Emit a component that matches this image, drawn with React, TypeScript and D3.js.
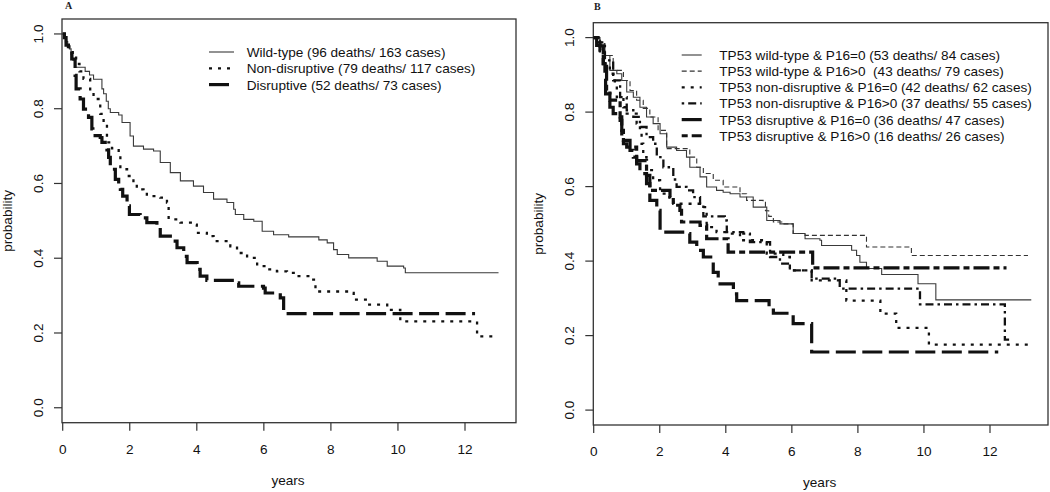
import React from "react";
import * as d3 from "d3";

// ---------- Data (years, survival probability) ----------
const xTicks = [0, 2, 4, 6, 8, 10, 12];
const yTicks = [0, 0.2, 0.4, 0.6, 0.8, 1.0];

const legendA = [
  "Wild-type (96 deaths/ 163 cases)",
  "Non-disruptive (79 deaths/ 117 cases)",
  "Disruptive (52 deaths/ 73 cases)",
];

const legendB = [
  "TP53 wild-type & P16=0 (53 deaths/ 84 cases)",
  "TP53 wild-type & P16>0  (43 deaths/ 79 cases)",
  "TP53 non-disruptive & P16=0 (42 deaths/ 62 cases)",
  "TP53 non-disruptive & P16>0 (37 deaths/ 55 cases)",
  "TP53 disruptive & P16=0 (36 deaths/ 47 cases)",
  "TP53 disruptive & P16>0 (16 deaths/ 26 cases)",
];

const wildTypeA: [number, number][] = [
  [0, 1], [0.05, 0.99], [0.1, 0.98], [0.15, 0.97], [0.2, 0.96], [0.25, 0.945], [0.3, 0.93],
  [0.37, 0.911], [0.67, 0.9], [0.8, 0.89], [0.92, 0.879], [1.17, 0.853], [1.22, 0.84],
  [1.3, 0.82], [1.36, 0.8], [1.42, 0.79], [1.67, 0.783], [1.77, 0.763], [2.01, 0.727],
  [2.11, 0.7], [2.41, 0.692], [2.71, 0.687], [2.91, 0.656], [3.21, 0.629], [3.51, 0.607],
  [3.9, 0.593], [4.2, 0.576], [4.5, 0.558], [4.9, 0.549], [5.1, 0.531], [5.15, 0.517],
  [5.4, 0.504], [5.7, 0.499], [5.95, 0.472], [6.29, 0.463], [6.74, 0.457], [7.64, 0.449],
  [7.89, 0.441], [8.08, 0.423], [8.19, 0.41], [8.53, 0.401], [9.38, 0.392], [9.68, 0.379],
  [10.17, 0.374], [10.22, 0.361], [13.0, 0.361],
];

const nonDisruptiveA: [number, number][] = [
  [0, 1], [0.1, 0.98], [0.2, 0.96], [0.3, 0.94], [0.4, 0.92], [0.5, 0.9], [0.62, 0.88],
  [0.82, 0.848], [0.92, 0.826], [1.12, 0.786], [1.22, 0.759], [1.32, 0.71], [1.47, 0.694],
  [1.67, 0.674], [1.72, 0.638], [1.92, 0.62], [2.11, 0.602], [2.21, 0.584], [2.41, 0.576],
  [2.51, 0.566], [2.91, 0.562], [3.11, 0.549], [3.16, 0.504], [3.51, 0.495], [3.9, 0.49],
  [4.0, 0.468], [4.3, 0.459], [4.5, 0.446], [5.0, 0.432], [5.2, 0.414], [5.5, 0.401],
  [5.8, 0.379], [6.1, 0.37], [6.39, 0.365], [6.69, 0.361], [6.99, 0.352], [7.39, 0.343],
  [7.54, 0.311], [8.58, 0.307], [8.68, 0.289], [9.08, 0.276], [9.68, 0.262], [10.07, 0.231],
  [12.36, 0.191], [12.9, 0.191],
];

const disruptiveA: [number, number][] = [
  [0, 1], [0.05, 0.99], [0.1, 0.97], [0.17, 0.96], [0.27, 0.933], [0.37, 0.889], [0.4, 0.853],
  [0.52, 0.826], [0.62, 0.799], [0.77, 0.777], [0.87, 0.746], [0.9, 0.728], [1.12, 0.723],
  [1.17, 0.71], [1.32, 0.69], [1.37, 0.67], [1.42, 0.647], [1.47, 0.638], [1.57, 0.611],
  [1.67, 0.589], [1.72, 0.584], [1.79, 0.566], [1.92, 0.54], [1.99, 0.517], [2.31, 0.508],
  [2.51, 0.495], [2.81, 0.482], [2.91, 0.459], [3.21, 0.446], [3.41, 0.428], [3.61, 0.405],
  [3.71, 0.388], [4.01, 0.37], [4.1, 0.352], [4.3, 0.341], [5.2, 0.334], [5.25, 0.325],
  [5.99, 0.32], [6.04, 0.307], [6.49, 0.294], [6.59, 0.252], [12.3, 0.252],
];

const wtP16zeroB: [number, number][] = [
  [0, 1], [0.19, 0.979], [0.34, 0.952], [0.49, 0.912], [0.7, 0.903], [0.85, 0.885], [1.0, 0.854],
  [1.2, 0.84], [1.4, 0.813], [1.6, 0.787], [1.8, 0.769], [2.01, 0.742], [2.21, 0.706],
  [2.51, 0.697], [2.81, 0.679], [2.91, 0.652], [3.22, 0.626], [3.42, 0.599], [3.72, 0.59],
  [3.92, 0.585], [4.13, 0.581], [4.43, 0.572], [4.83, 0.545], [5.24, 0.509], [5.64, 0.5],
  [6.04, 0.474], [6.4, 0.46], [6.85, 0.456], [6.9, 0.442], [7.81, 0.429], [7.96, 0.415],
  [8.06, 0.397], [8.26, 0.38], [8.72, 0.364], [9.82, 0.339], [10.36, 0.296], [13.25, 0.296],
];

const wtP16posB: [number, number][] = [
  [0, 1], [0.19, 0.984], [0.34, 0.952], [0.59, 0.912], [0.9, 0.885], [1.1, 0.858], [1.3, 0.832],
  [1.5, 0.81], [1.7, 0.787], [1.95, 0.751], [2.21, 0.702], [2.91, 0.679], [3.12, 0.652],
  [3.32, 0.635], [3.62, 0.617], [3.92, 0.599], [4.43, 0.581], [4.63, 0.563], [5.13, 0.558],
  [5.2, 0.535], [5.3, 0.52], [5.44, 0.505], [5.74, 0.5], [6.04, 0.474], [6.4, 0.469],
  [8.26, 0.438], [9.62, 0.415], [13.15, 0.415],
];

const nonDisP16zeroB: [number, number][] = [
  [0, 1], [0.1, 0.99], [0.19, 0.963], [0.29, 0.93], [0.49, 0.903], [0.64, 0.876], [0.7, 0.84],
  [0.9, 0.813], [1.0, 0.796], [1.3, 0.769], [1.4, 0.742], [1.45, 0.715], [1.5, 0.679],
  [1.6, 0.644], [1.8, 0.617], [2.01, 0.581], [2.21, 0.572], [2.41, 0.554], [3.22, 0.545],
  [3.42, 0.491], [3.72, 0.478], [4.13, 0.474], [4.43, 0.456], [5.24, 0.42], [5.74, 0.411],
  [5.94, 0.375], [6.6, 0.348], [7.65, 0.294], [8.68, 0.259], [9.16, 0.221], [10.15, 0.176],
  [13.15, 0.176],
];

const nonDisP16posB: [number, number][] = [
  [0, 1], [0.1, 0.987], [0.34, 0.939], [0.59, 0.885], [0.8, 0.84], [1.0, 0.805], [1.2, 0.787],
  [1.4, 0.76], [1.6, 0.733], [1.8, 0.715], [1.91, 0.679], [2.11, 0.652], [2.41, 0.619],
  [2.51, 0.599], [2.81, 0.59], [3.01, 0.572], [3.22, 0.554], [3.32, 0.52], [3.97, 0.509],
  [4.03, 0.478], [4.53, 0.474], [4.73, 0.451], [5.34, 0.411], [5.64, 0.393], [5.94, 0.375],
  [6.6, 0.353], [7.45, 0.326], [9.88, 0.284], [12.45, 0.189], [12.69, 0.189],
];

const disP16zeroB: [number, number][] = [
  [0, 1], [0.09, 0.979], [0.19, 0.966], [0.29, 0.93], [0.34, 0.894], [0.36, 0.849], [0.49, 0.813],
  [0.59, 0.796], [0.8, 0.778], [0.85, 0.751], [0.9, 0.724], [1.1, 0.697], [1.2, 0.679],
  [1.3, 0.661], [1.4, 0.635], [1.6, 0.608], [1.7, 0.563], [1.91, 0.536], [2.01, 0.478],
  [2.81, 0.474], [2.91, 0.451], [3.12, 0.429], [3.32, 0.411], [3.62, 0.37], [3.77, 0.339],
  [4.23, 0.312], [4.33, 0.294], [5.31, 0.277], [5.44, 0.26], [6.04, 0.232], [6.6, 0.156],
  [12.25, 0.156],
];

const disP16posB: [number, number][] = [
  [0, 1], [0.19, 0.978], [0.29, 0.93], [0.39, 0.858], [0.49, 0.832], [0.8, 0.787], [0.85, 0.733],
  [0.9, 0.715], [1.0, 0.706], [1.3, 0.67], [1.6, 0.63], [1.7, 0.59], [2.31, 0.572], [2.41, 0.55],
  [2.61, 0.536], [2.66, 0.505], [3.22, 0.496], [3.42, 0.46], [4.07, 0.424], [6.63, 0.382],
  [12.5, 0.382],
];

// ---------- Styles ----------
type Sty = { w: number; dash: string | null; color: string };
const stylesA: Sty[] = [
  { w: 1.1, dash: null, color: "#3a3a3a" },
  { w: 2.3, dash: "3,6", color: "#111" },
  { w: 3.2, dash: "20,6.5", color: "#111" },
];
const stylesB: Sty[] = [
  { w: 1.1, dash: null, color: "#3a3a3a" },
  { w: 1.1, dash: "5,3", color: "#333" },
  { w: 2.3, dash: "3,6", color: "#111" },
  { w: 2.3, dash: "2.5,4,8,4", color: "#111" },
  { w: 3.2, dash: "20,6.5", color: "#111" },
  { w: 3.2, dash: "6,4,16,4", color: "#111" },
];

const FONT = "'Liberation Sans', Arial, Helvetica, sans-serif";
const FS = 13.6;

type PanelProps = {
  letter: string;
  letterX: number;
  letterY: number;
  box: [number, number, number, number]; // left, top, right, bottom
  x0: number;
  x12: number;
  series: [number, number][][];
  styles: Sty[];
  legend: string[];
  legLineX: [number, number];
  legTextX: number;
  legY0: number;
  legDy: number;
};

function Panel(p: PanelProps) {
  const [L, T, R, B] = p.box;
  const x = d3.scaleLinear().domain([0, 12]).range([p.x0, p.x12]);
  const y = d3.scaleLinear().domain([-0.04, 1.04]).range([B, T]);
  const line = d3
    .line<[number, number]>()
    .x((d) => x(d[0]))
    .y((d) => y(d[1]))
    .curve(d3.curveStepAfter);
  const axisCol = "#333";
  const midX = (L + R) / 2;
  return (
    <g>
      <text x={p.letterX} y={p.letterY} fontFamily="'Liberation Serif', 'DejaVu Serif', serif" fontSize={10} fontWeight="bold" fill="#222">
        {p.letter}
      </text>
      <rect x={L} y={T} width={R - L} height={B - T} fill="none" stroke={axisCol} strokeWidth={1.3} />
      {/* y axis ticks */}
      {yTicks.map((v) => (
        <g key={"y" + v}>
          <line x1={L - 8} x2={L} y1={y(v)} y2={y(v)} stroke={axisCol} strokeWidth={1.2} />
          <text
            transform={`translate(${L - 19},${y(v)}) rotate(-90)`}
            textAnchor="middle"
            fontFamily={FONT}
            fontSize={FS}
            fill="#111"
          >
            {v.toFixed(1)}
          </text>
        </g>
      ))}
      {/* x axis ticks */}
      {xTicks.map((v) => (
        <g key={"x" + v}>
          <line x1={x(v)} x2={x(v)} y1={B} y2={B + 8} stroke={axisCol} strokeWidth={1.2} />
          <text x={x(v)} y={B + 31} textAnchor="middle" fontFamily={FONT} fontSize={FS} fill="#111">
            {v}
          </text>
        </g>
      ))}
      <text x={midX - 1} y={B + 62} textAnchor="middle" fontFamily={FONT} fontSize={FS} fill="#111">
        years
      </text>
      <text
        transform={`translate(${L - 50},${(T + B) / 2}) rotate(-90)`}
        textAnchor="middle"
        fontFamily={FONT}
        fontSize={FS}
        fill="#111"
      >
        probability
      </text>
      {/* curves */}
      {p.series.map((s, i) => (
        <path
          key={"c" + i}
          d={line(s) || ""}
          fill="none"
          stroke={p.styles[i].color}
          strokeWidth={p.styles[i].w}
          strokeDasharray={p.styles[i].dash || undefined}
        />
      ))}
      {/* legend */}
      {p.legend.map((t, i) => {
        const yy = p.legY0 + i * p.legDy;
        return (
          <g key={"l" + i}>
            <line
              x1={p.legLineX[0]}
              x2={p.legLineX[1]}
              y1={yy}
              y2={yy}
              stroke={p.styles[i].color}
              strokeWidth={p.styles[i].w}
              strokeDasharray={p.styles[i].dash || undefined}
            />
            <text x={p.legTextX} y={yy + 5} fontFamily={FONT} fontSize={FS} fill="#111" style={{ whiteSpace: "pre" }}>
              {t}
            </text>
          </g>
        );
      })}
    </g>
  );
}

export default function App() {
  return (
    <svg
      width={1050}
      height={492}
      style={{ position: "absolute", left: 0, top: 0, background: "#fff" }}
    >
      <rect x={0} y={0} width={1050} height={492} fill="#fff" />
      <Panel
        letter="A"
        letterX={65}
        letterY={8.5}
        box={[62, 19, 516, 422.7]}
        x0={62.7}
        x12={465}
        series={[wildTypeA, nonDisruptiveA, disruptiveA]}
        styles={stylesA}
        legend={legendA}
        legLineX={[209, 234]}
        legTextX={246.7}
        legY0={52}
        legDy={16.3}
      />
      <Panel
        letter="B"
        letterX={594}
        letterY={9.5}
        box={[593.3, 22.7, 1048, 425]}
        x0={593.7}
        x12={990}
        series={[wtP16zeroB, wtP16posB, nonDisP16zeroB, nonDisP16posB, disP16zeroB, disP16posB]}
        styles={stylesB}
        legend={legendB}
        legLineX={[681.7, 701.7]}
        legTextX={719.3}
        legY0={55}
        legDy={16.15}
      />
    </svg>
  );
}
